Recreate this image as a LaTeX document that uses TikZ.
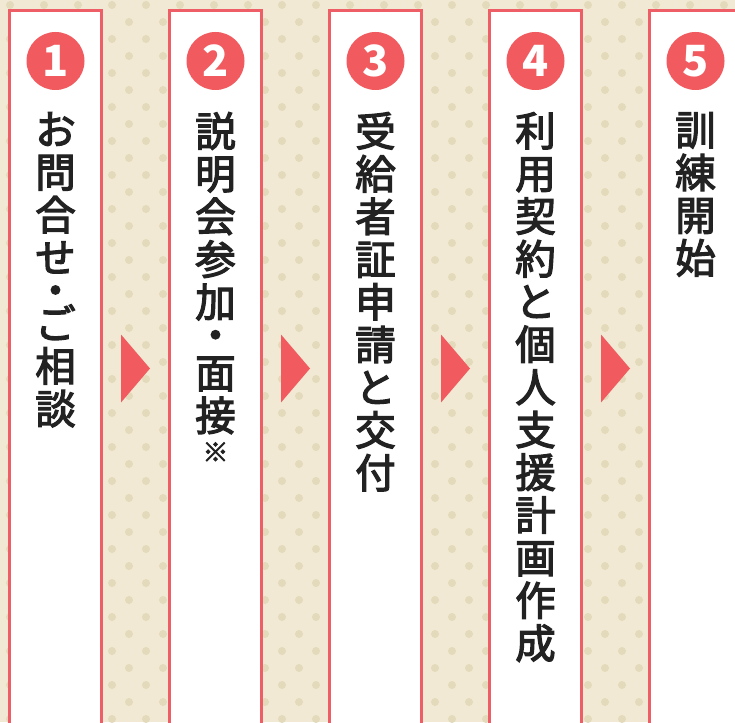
\documentclass[tikz,border=0pt]{standalone}
\usepackage{fontspec}
\usetikzlibrary{calc}
\newfontfamily\cjk{Noto Sans CJK JP}
\newfontfamily\cjkm{Noto Sans CJK JP}[FakeBold=3]
\definecolor{bgc}{HTML}{F1E9D3}
\definecolor{dotc}{HTML}{E3DABB}
\definecolor{redc}{HTML}{F15B60}
\definecolor{bordc}{HTML}{EE5E66}
\definecolor{txtc}{HTML}{222222}
\tikzset{
  colbox/.style={draw=bordc, line width=3pt, fill=white, minimum width=92pt, minimum height=760pt, anchor=north, inner sep=0pt},
  numcirc/.style={circle, fill=redc, minimum size=58pt, inner sep=0pt, text=white, font=\cjk\bfseries\fontsize{43}{43}\selectfont},
  vtext/.style={anchor=north, inner sep=0pt, align=center, text=txtc, font=\cjkm\fontsize{40.5}{42.7}\selectfont},
  notemark/.style={inner sep=0pt, text=txtc, font=\cjkm\fontsize{26}{26}\selectfont},
  arrowtri/.style={fill=redc, draw=none}
}
\begin{document}
\begin{tikzpicture}[x=1pt, y=-1pt]
\useasboundingbox (0,0) rectangle (735,722);
\begin{scope}
\clip (0,0) rectangle (735,722);
\fill[bgc] (0,0) rectangle (735,722);
\foreach \j in {0,...,43}{
  \foreach \k in {-4,...,19}{
    \pgfmathsetmacro{\xx}{112+34*\k+17*mod(\j,2)}
    \fill[dotc] (\xx, 5+17*\j) circle (4pt);
  }
}
\node[colbox] (c1) at (55.5,9.5) {};
\node[colbox] (c2) at (215.5,9.5) {};
\node[colbox] (c3) at (375.5,9.5) {};
\node[colbox] (c4) at (535.5,9.5) {};
\node[colbox] (c5) at (695.5,9.5) {};
\end{scope}
\node[numcirc] (n1) at (55.5,61) {1};
\node[numcirc] (n2) at (215.5,61) {2};
\node[numcirc] (n3) at (375.5,61) {3};
\node[numcirc] (n4) at (535.5,61) {4};
\node[numcirc] (n5) at (695.5,61) {5};
\node[vtext] (t1) at (55.5,112) {お\\問\\合\\せ\\[-10pt]・\\[-9.5pt]ご\\相\\談};
\node[vtext] (t2) at (215.5,112) {説\\明\\会\\参\\加\\[-9.7pt]・\\[-4.7pt]面\\接};
\node[notemark] (m2) at (215.5,452) {※};
\node[vtext] (t3) at (375.5,112) {受\\給\\者\\証\\申\\請\\と\\交\\付};
\node[vtext] (t4) at (535.5,112) {利\\用\\契\\約\\と\\個\\人\\支\\援\\計\\画\\作\\成};
\node[vtext] (t5) at (695.5,112) {訓\\練\\開\\始};
\foreach \a/\b in {c1/c2,c2/c3,c3/c4,c4/c5}{
  \coordinate (m) at ($(\a.east)!0.5!(\b.west) + (0,-22.5)$);
  \fill[arrowtri] ([xshift=-14.5pt,yshift=34pt]m) -- ([xshift=14.5pt]m) -- ([xshift=-14.5pt,yshift=-34pt]m) -- cycle;
}
\end{tikzpicture}
\end{document}
